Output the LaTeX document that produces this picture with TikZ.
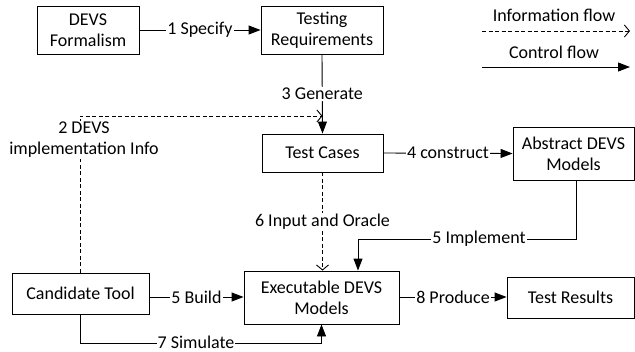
\documentclass[tikz,border=0pt]{standalone}
\usepackage{fontspec}
\setmainfont{Carlito}
\usetikzlibrary{arrows.meta}
\tikzset{
  box/.style={draw, line width=0.9pt, align=center, inner sep=0pt, font=\fontsize{18}{21}\selectfont},
  lbl/.style={fill=white, inner sep=1pt, align=center, font=\fontsize{18}{21}\selectfont},
  ctrl/.style={line width=0.9pt, -{Triangle[length=12pt,width=9pt]}},
  info/.style={line width=0.9pt, dash pattern=on 4pt off 2.5pt, -{Straight Barb[length=5pt,width=12pt]}},
}
\begin{document}
\begin{tikzpicture}[x=1pt,y=-1pt]
\useasboundingbox (0,0) rectangle (635,351);
% boxes
\node[box, minimum width=102pt, minimum height=48pt] (devs) at (88,30) {DEVS\\Formalism};
\node[box, minimum width=122pt, minimum height=48pt] (treq) at (322,30) {Testing\\Requirements};
\node[box, minimum width=121pt, minimum height=38pt] (tc) at (322.5,153) {Test Cases};
\node[box, minimum width=121pt, minimum height=53pt] (abs) at (573.5,153.5) {Abstract DEVS\\Models};
\node[box, minimum width=137pt, minimum height=41pt] (cand) at (80.5,293.5) {Candidate Tool};
\node[box, minimum width=155pt, minimum height=53pt] (exec) at (321.5,297.5) {Executable DEVS\\Models};
\node[box, minimum width=127pt, minimum height=41pt] (res) at (570.5,297.5) {Test Results};
% connectors
\draw[ctrl] (devs.east) -- node[lbl] (l1) {1 Specify} (treq.west);
\draw[ctrl] (treq.south) -- node[lbl] (l3) {3 Generate} (tc.north);
\coordinate (c2) at (80,116);
\draw[info] (cand.north -| c2) -- (c2) -- (tc.north |- c2);
\node[lbl] (l2) at (84,140) {2 DEVS\\implementation Info};
\draw[ctrl] (tc.east) -- node[lbl] (l4) {4 construct} (abs.west);
\draw[info] (tc.south) -- node[lbl] (l6) {6 Input and Oracle} (tc.south |- exec.north);
\coordinate (c5a) at (576,239);
\coordinate (c5b) at (358,239);
\draw[ctrl] (abs.south -| c5a) -- (c5a) -- (c5b) -- (c5b |- exec.north);
\node[lbl] (l5) at (479,239) {5 Implement};
\draw[ctrl] (cand.east |- 0,297) -- node[lbl] (l5b) {5 Build} (exec.west |- 0,297);
\coordinate (c7) at (80,343);
\draw[ctrl] (cand.south -| c7) -- (c7) -- (exec.south |- c7) -- (exec.south);
\node[lbl, inner ysep=0pt] (l7) at (196,342) {7 Simulate};
\draw[ctrl] (exec.east |- 0,297) -- node[lbl] (l8) {8 Produce} (res.west |- 0,297);
% legend
\node[lbl] (linfo) at (554,15) {Information flow};
\coordinate (ia) at (482,31);
\coordinate (ib) at (630,31);
\draw[info] (ia) -- (ib);
\node[lbl] (lctrl) at (554,52) {Control flow};
\coordinate (ca) at (482,67);
\coordinate (cb) at (630,67);
\draw[ctrl] (ca) -- (cb);
\end{tikzpicture}
\end{document}
